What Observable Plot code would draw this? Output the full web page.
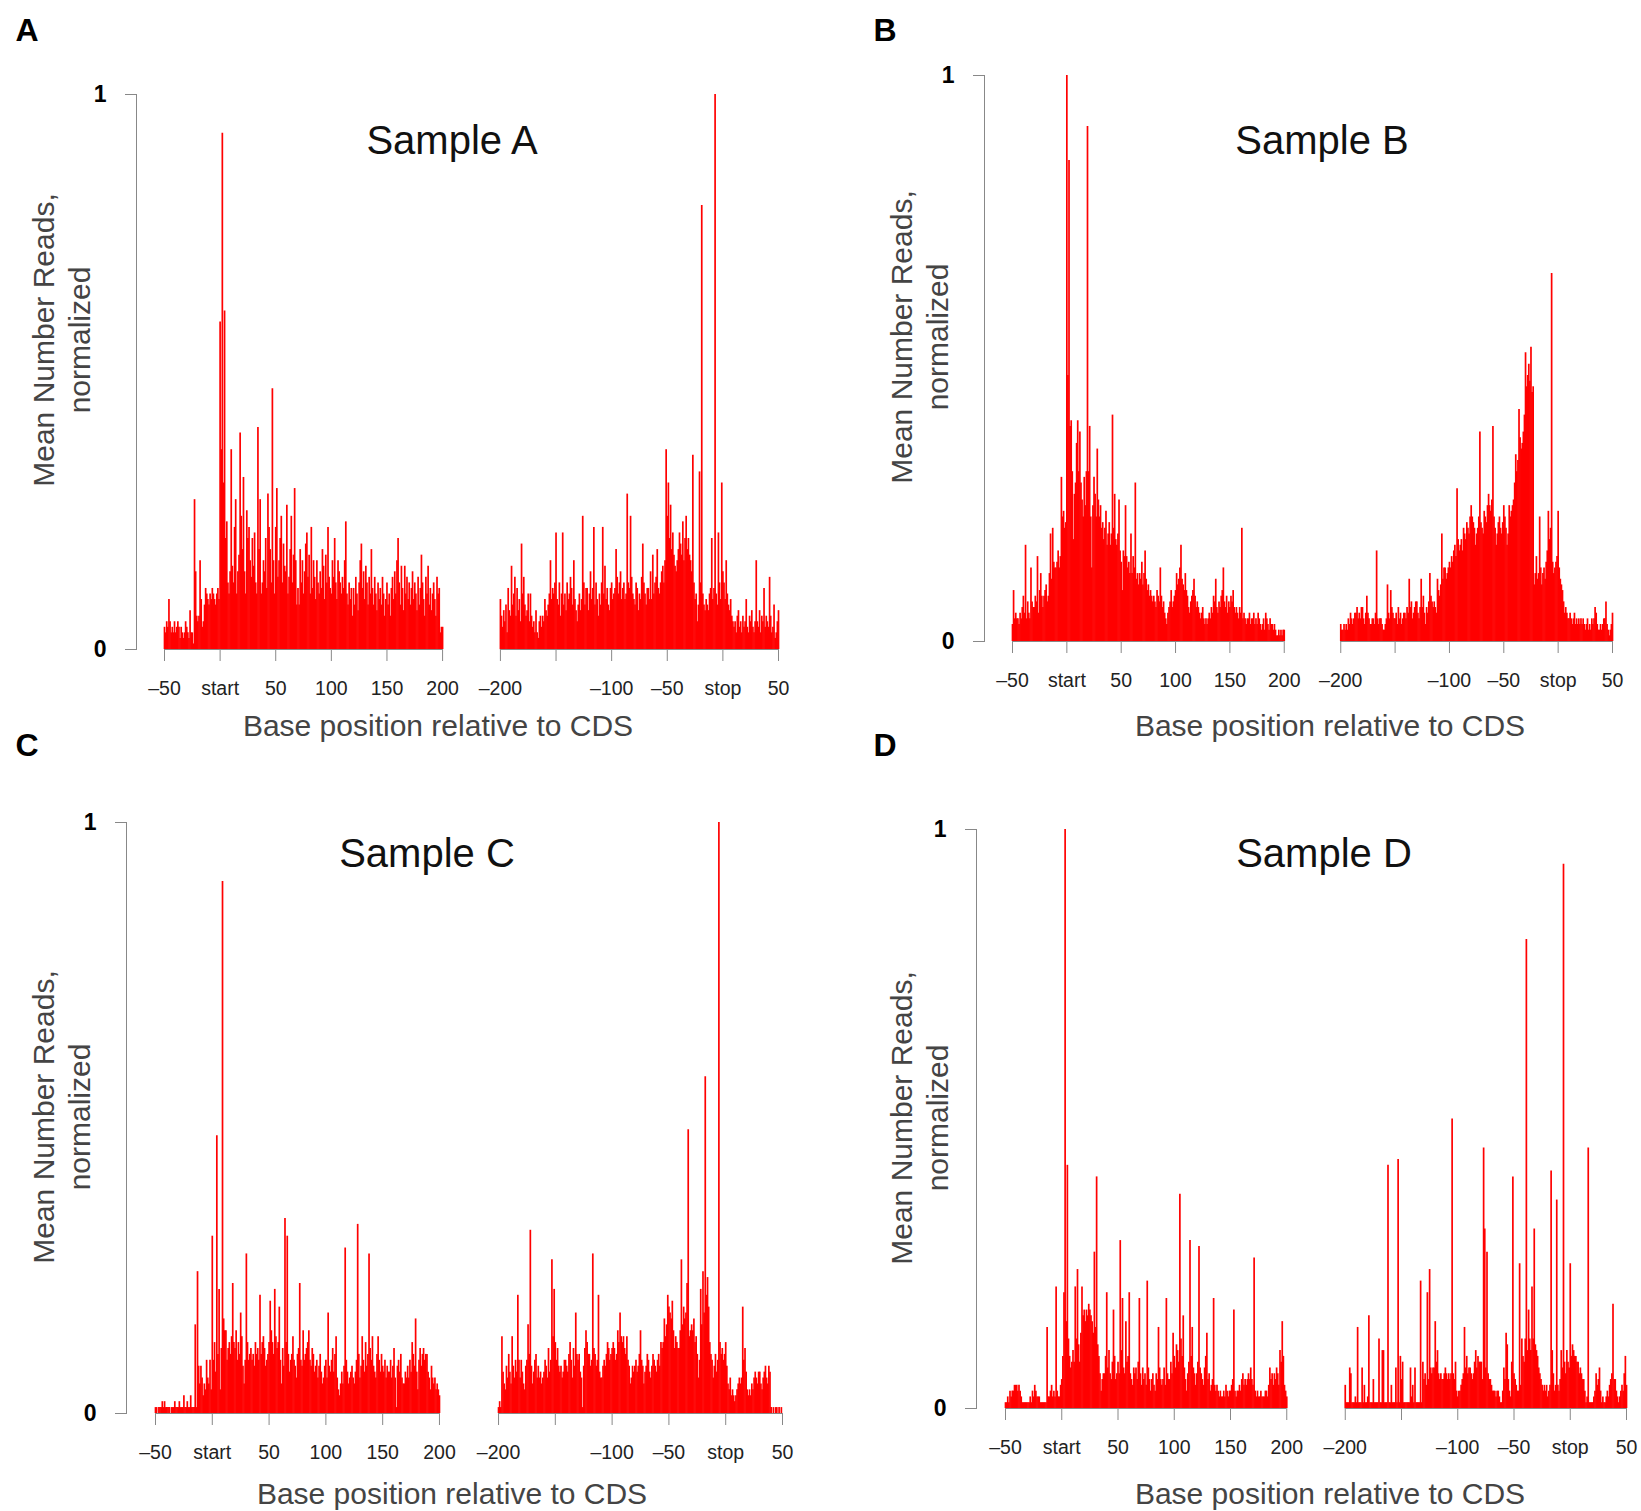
<!DOCTYPE html>
<html><head><meta charset="utf-8">
<script src="https://cdn.jsdelivr.net/npm/d3@7"></script>
<script src="https://cdn.jsdelivr.net/npm/@observablehq/plot@0.6"></script>
<style>
body{margin:0;background:#fff;font-family:"Liberation Sans",Arial,sans-serif;}
#page{position:relative;width:1641px;height:1511px;overflow:hidden;background:#fff;}
.abs{position:absolute;white-space:nowrap;line-height:1;}
.letter{font-weight:bold;font-size:32px;color:#000;transform:translate(-50%,-50%);}
.title{font-size:40px;color:#111;transform:translate(-50%,-50%);}
.xt{font-size:30px;color:#444;transform:translate(-50%,-50%);}
.yt{font-size:30px;color:#444;transform:translate(-50%,-50%) rotate(-90deg);}
svg{position:absolute;overflow:visible;}
</style></head><body><div id="page"></div>
<script>
// positions along the transcript
const startPositions = d3.range(-50, 201);   // around the start codon
const stopPositions = d3.range(-200, 51);    // around the stop codon
const startTicks = [-50, 0, 50, 100, 150, 200];
const startTickLabels = ["–50", "start", "50", "100", "150", "200"];
const stopTicks = [-200, -150, -100, -50, 0, 50];
const stopTickLabels = ["–200", "", "–100", "–50", "stop", "50"];
const yTicks = [0, 100];          // values are stored in percent of the maximum
const yTickLabels = ["0", "1"];
const sampleNames = ["Sample A", "Sample B", "Sample C", "Sample D"];
const panelLetters = ["A", "B", "C", "D"];
const xTitle = "Base position relative to CDS";
const yTitle1 = "Mean Number Reads,";
const yTitle2 = "normalized";

// normalized mean reads (percent of max), one value per position
const sampleA_start = [
4,3,5,4,9,5,3,4,3,5, 3,4,5,4,2,4,3,2,3,5, 4,3,2,7,3,3,1,27,14,6, 5,6,16,9,4,5,8,11,10,9, 8,10,9,11,10,9,8,10,11,9,
59,36,93,30,61,20,23,12,10,14, 36,15,12,22,27,10,14,17,39,24, 18,31,14,10,25,20,22,16,13,20, 15,21,12,10,40,18,27,10,12,16, 14,20,11,28,22,18,12,47,16,10,
22,29,13,16,20,24,12,19,15,14, 26,10,13,18,24,12,17,29,16,8, 11,8,18,12,16,10,14,19,21,13, 17,10,22,11,16,13,9,16,12,10, 14,11,18,15,9,17,12,22,13,11,
10,16,13,20,12,9,16,14,12,10, 13,11,16,23,10,8,12,9,11,6, 11,8,13,10,7,12,16,19,11,14, 9,15,12,8,13,10,18,11,8,13, 10,7,12,9,11,8,13,10,6,9,
12,8,10,6,11,13,9,14,10,16, 20,12,8,15,11,7,15,10,13,9, 12,8,11,14,9,12,10,7,13,8, 11,17,12,9,6,13,10,15,8,11, 7,10,12,9,6,13,10,11,3,4,4];
const sampleA_stop = [
9,6,4,7,5,8,3,11,7,6, 15,8,10,13,6,11,7,9,5,19, 10,13,8,6,7,10,5,10,6,4, 5,3,7,3,2,5,6,4,6,5, 9,7,6,8,10,16,9,11,10,12,
21,9,8,12,6,10,21,8,10,7, 12,9,10,13,11,8,16,9,7,5, 8,10,7,9,24,12,8,11,11,7, 10,14,9,11,22,8,12,9,6,10, 8,12,22,10,15,9,11,8,7,11,
12,9,10,11,18,13,10,12,14,9, 11,12,9,10,28,12,11,24,13,10, 9,8,12,11,7,10,9,13,19,12, 10,8,11,11,9,14,9,17,10,12, 13,18,11,10,12,14,15,12,16,36,
24,30,20,26,18,21,17,15,14,16, 18,21,19,17,23,16,20,24,18,20, 17,16,14,35,12,9,10,5,8,32, 12,80,10,8,7,9,8,7,10,11, 20,9,11,100,10,8,21,12,9,30,
14,12,9,16,10,8,7,9,6,5, 4,5,3,6,7,4,5,3,6,4, 5,9,4,3,6,5,7,4,3,5, 16,5,4,7,3,6,5,11,4,6, 5,4,13,6,3,4,8,2,3,5,7];
const sampleB_start = [
3,9,4,5,4,4,3,5,4,6, 8,5,17,4,7,5,4,13,7,6, 6,8,7,15,5,9,12,8,6,8, 9,10,7,8,12,19,11,20,14,13, 13,14,16,13,15,29,22,23,20,21,
100,47,85,38,39,30,18,26,28,35, 39,30,37,28,25,22,29,24,30,91, 30,38,22,13,24,29,26,22,34,25, 22,24,20,21,18,20,23,17,19,21, 17,19,40,20,26,18,17,19,25,16,
14,9,16,15,24,15,13,14,12,19, 12,15,13,28,11,12,10,12,11,14, 10,12,16,11,9,10,8,9,8,7, 8,7,6,9,8,7,13,8,6,7, 5,4,3,5,6,7,9,6,7,8,
9,12,10,11,13,17,11,10,9,12, 9,8,6,5,7,8,9,11,8,6, 7,6,5,4,5,6,4,3,4,3, 4,5,4,6,5,8,7,11,6,5, 7,6,8,9,13,7,6,8,5,7,
6,8,7,9,6,5,6,5,4,6, 5,20,4,5,4,3,4,4,5,3, 4,4,5,3,4,3,5,4,3,2, 3,4,2,5,4,3,2,4,3,3, 2,3,2,1,1,2,1,2,1,2,2];
const sampleB_stop = [
3,2,2,3,2,3,2,4,3,5, 4,3,4,5,5,6,4,5,4,6, 6,4,3,5,8,5,4,3,3,4, 4,3,5,16,4,3,4,4,3,2, 2,3,4,10,5,4,9,6,5,4,
4,5,3,6,4,5,3,4,5,5, 4,6,5,11,6,7,4,5,6,7, 7,5,4,6,11,6,8,5,3,6, 5,7,12,8,7,6,7,6,5,11, 9,8,10,19,11,13,13,11,12,13,
14,13,15,14,16,17,15,27,18,16, 17,18,16,20,19,18,21,20,19,22, 24,22,21,20,17,19,20,22,37,21, 20,19,23,22,21,24,26,24,23,25, 38,22,20,17,19,21,22,20,19,21,
24,22,20,17,19,24,22,23,24,25, 28,33,30,32,41,36,34,35,37,40, 51,45,47,49,46,52,44,45,10,12, 15,11,12,22,13,10,12,13,11,14, 16,23,18,20,65,14,12,13,14,15,
23,13,11,10,9,7,5,6,5,4, 4,5,4,3,4,5,3,4,3,4, 3,4,3,4,3,2,3,4,2,3, 2,4,3,4,6,5,3,2,2,3, 2,3,4,4,7,3,2,1,2,3,5];
const sampleC_start = [
1,1,0,1,1,1,2,1,2,1, 1,1,1,0,1,1,1,2,1,1, 1,2,1,1,1,3,1,1,2,1, 1,3,1,1,1,15,1,24,8,5, 8,6,3,5,4,9,6,5,9,4,
30,9,12,7,47,10,21,4,11,90, 16,14,14,9,11,12,10,13,22,12, 11,14,9,12,10,17,13,8,5,9, 27,12,9,10,11,9,10,8,12,10, 11,9,20,10,12,13,11,8,9,10,
12,19,14,12,10,21,13,11,12,18, 9,5,11,8,33,12,30,10,7,9, 10,13,9,8,6,10,11,22,9,8, 14,9,10,11,12,14,9,8,11,10, 7,8,9,6,8,10,7,5,6,8,
9,6,17,8,7,9,11,7,10,13, 6,4,3,5,7,5,8,28,9,7, 5,6,7,8,6,5,7,9,32,10, 6,8,13,9,7,12,8,10,27,11, 9,13,8,7,6,10,13,9,7,10,
8,7,9,6,8,7,7,9,6,8, 11,6,1,8,9,7,10,6,5,5, 7,6,8,6,9,7,12,10,8,16, 7,4,9,11,8,10,11,9,10,10, 7,6,4,8,6,5,6,4,5,4,3];
const sampleC_stop = [
1,2,1,13,7,5,4,8,6,10, 7,5,13,8,6,9,7,20,9,6, 9,7,5,4,8,9,15,10,31,8, 5,7,9,10,6,8,6,7,5,6, 7,9,8,6,11,7,9,26,13,21,
12,9,11,8,7,8,6,7,9,9, 8,7,10,12,9,6,11,8,17,10, 9,10,7,6,1,8,11,14,12,10, 10,8,9,27,11,10,8,9,20,7, 6,6,8,9,8,10,12,11,9,10,
11,12,11,9,10,14,12,17,13,12, 13,11,10,13,9,8,5,6,8,7, 8,9,7,8,10,14,9,8,5,7, 8,10,9,7,6,8,10,9,8,7, 9,10,8,12,11,12,16,13,15,20,
18,17,16,19,14,11,13,12,11,11, 14,26,15,18,16,17,22,48,13,14, 15,14,16,12,13,10,6,9,21,15, 24,17,57,20,23,18,12,10,9,6, 8,10,7,9,100,12,10,11,9,10,
12,8,5,4,6,3,4,3,2,3, 4,5,6,5,6,18,9,11,7,4, 3,4,3,5,4,6,7,6,5,7, 7,5,4,6,7,8,6,5,8,7, 1,0,1,0,1,1,0,1,0,1,0];
const sampleD_start = [
1,1,2,1,3,2,3,3,4,4, 4,3,4,3,2,1,1,1,1,1, 1,1,2,1,3,2,4,3,2,2, 2,1,1,1,1,1,1,14,2,2, 3,4,2,3,2,21,3,2,2,4,
5,9,20,100,15,42,12,9,7,8, 10,8,21,12,24,11,8,13,21,16, 17,15,17,16,18,17,16,15,13,27, 14,40,11,9,6,3,5,6,6,9, 20,7,10,6,5,8,17,9,5,6,
8,6,29,10,19,7,6,15,8,9, 20,6,5,4,7,6,7,5,8,19, 6,4,7,5,6,4,22,7,5,3, 5,6,4,3,6,5,14,7,5,4, 5,7,4,19,6,5,5,8,6,13,
9,7,11,10,8,37,12,9,16,7, 5,3,6,8,29,9,14,7,6,4, 6,8,28,7,6,5,4,7,9,13, 5,6,3,4,5,19,4,3,4,3, 2,3,2,2,3,2,4,3,2,3,
3,4,5,17,3,2,3,3,4,3, 5,6,4,5,4,5,6,5,7,5, 4,26,3,2,3,2,2,3,2,2, 2,3,3,2,4,7,5,6,4,6, 5,7,6,4,10,8,15,9,4,3,2];
const sampleD_stop = [
4,1,1,1,7,6,1,1,1,2, 1,14,1,1,1,7,1,4,1,1, 2,16,1,1,1,5,1,1,1,1, 12,1,1,10,10,1,1,1,42,1, 1,4,1,1,1,7,1,43,1,9,
5,8,1,1,1,1,1,1,7,2, 4,1,7,1,1,1,1,22,1,8, 5,6,4,20,5,24,7,6,7,7, 15,8,10,6,5,6,5,5,6,7, 6,5,6,5,6,50,6,5,8,3,
2,3,3,4,5,6,14,7,9,6, 7,7,6,5,6,8,10,7,9,8, 8,8,5,45,31,7,27,6,5,5, 4,3,3,3,2,3,3,2,1,1, 3,7,5,13,11,5,3,2,8,40,
6,5,4,3,3,25,4,12,9,8, 12,81,10,17,12,10,21,12,31,11, 10,9,7,6,5,4,3,4,3,4, 2,3,4,41,10,6,3,4,36,4, 3,5,10,7,94,8,6,10,8,7,
25,9,11,10,9,9,8,8,6,7, 6,5,5,3,1,2,45,1,1,1, 1,2,3,6,4,5,7,3,1,2, 1,1,2,3,2,4,5,6,18,5, 5,3,2,1,2,3,4,3,6,9,4];

const startSeries = [sampleA_start, sampleB_start, sampleC_start, sampleD_start];
const stopSeries = [sampleA_stop, sampleB_stop, sampleC_stop, sampleD_stop];

// layout (page pixels)
const STOP_OFFSET = 452; // the stop block is drawn after a gap on the same axis
const layouts = [
  {axisX:136, xStart:164, xEnd:778, yTop:94, yBot:649, letter:[27,30], title:[452,140], xt:[438,726], yt1:[44,340], yt2:[80,340]},
  {axisX:984, xStart:1012, xEnd:1612, yTop:75, yBot:641, letter:[885,30], title:[1322,140], xt:[1330,726], yt1:[902,337], yt2:[938,337]},
  {axisX:126, xStart:155, xEnd:782, yTop:822, yBot:1413, letter:[27,745], title:[427,853], xt:[452,1494], yt1:[44,1117], yt2:[80,1117]},
  {axisX:976, xStart:1005, xEnd:1626, yTop:829, yBot:1408, letter:[885,745], title:[1324,853], xt:[1330,1494], yt1:[902,1118], yt2:[938,1118]}
];

const page = document.getElementById("page");
function addText(cls, txt, pos) {
  const d = document.createElement("div");
  d.className = "abs " + cls;
  d.textContent = txt;
  d.style.left = pos[0] + "px";
  d.style.top = pos[1] + "px";
  page.appendChild(d);
}

const allTicks = startTicks.concat(stopTicks.map(t => t + STOP_OFFSET));
const allTickLabels = startTickLabels.concat(stopTickLabels);
const segments = [
  {x1: startTicks[0], x2: startTicks[startTicks.length - 1]},
  {x1: stopTicks[0] + STOP_OFFSET, x2: stopTicks[stopTicks.length - 1] + STOP_OFFSET}
];

layouts.forEach((L, k) => {
  const rows = startPositions.map((p, i) => ({x: p, v: startSeries[k][i] ?? 0}))
    .concat(stopPositions.map((p, i) => ({x: p + STOP_OFFSET, v: stopSeries[k][i] ?? 0})));
  const ML = 80, MR = 15, MT = 20, MB = 70;
  const width = (L.xEnd - L.axisX) + ML + MR;
  const height = (L.yBot - L.yTop) + MT + MB;
  const svg = Plot.plot({
    width, height,
    marginLeft: ML, marginRight: MR, marginTop: MT, marginBottom: MB,
    x: {domain: [startTicks[0], stopTicks[stopTicks.length - 1] + STOP_OFFSET], insetLeft: L.xStart - L.axisX},
    y: {domain: [0, 100]},
    style: {fontFamily: "'Liberation Sans', Arial, sans-serif", background: "transparent", overflow: "visible"},
    marks: [
      Plot.ruleY(segments, {x1: "x1", x2: "x2", y: 0, stroke: "#888", strokeWidth: 1}),
      Plot.ruleX(rows, {x: "x", y1: 0, y2: "v", stroke: "#ff0000", strokeWidth: 1.7}),
      Plot.frame({anchor: "left", stroke: "#888", strokeWidth: 1}),
      Plot.axisY({ticks: yTicks, tickFormat: d => yTickLabels[yTicks.indexOf(d)], tickSize: 11, tickPadding: 19,
        fontSize: 23, fontWeight: "bold", color: "#000", stroke: "#888", label: null}),
      Plot.axisX({ticks: allTicks, tickFormat: d => allTickLabels[allTicks.indexOf(d)], tickSize: 12, tickPadding: 20,
        fontSize: 19.5, color: "#222", stroke: "#888", label: null})
    ]
  });
  svg.style.left = (L.axisX - ML) + "px";
  svg.style.top = (L.yTop - MT) + "px";
  page.appendChild(svg);
  addText("letter", panelLetters[k], L.letter);
  addText("title", sampleNames[k], L.title);
  addText("xt", xTitle, L.xt);
  addText("yt", yTitle1, L.yt1);
  addText("yt", yTitle2, L.yt2);
});
</script>
</body></html>
